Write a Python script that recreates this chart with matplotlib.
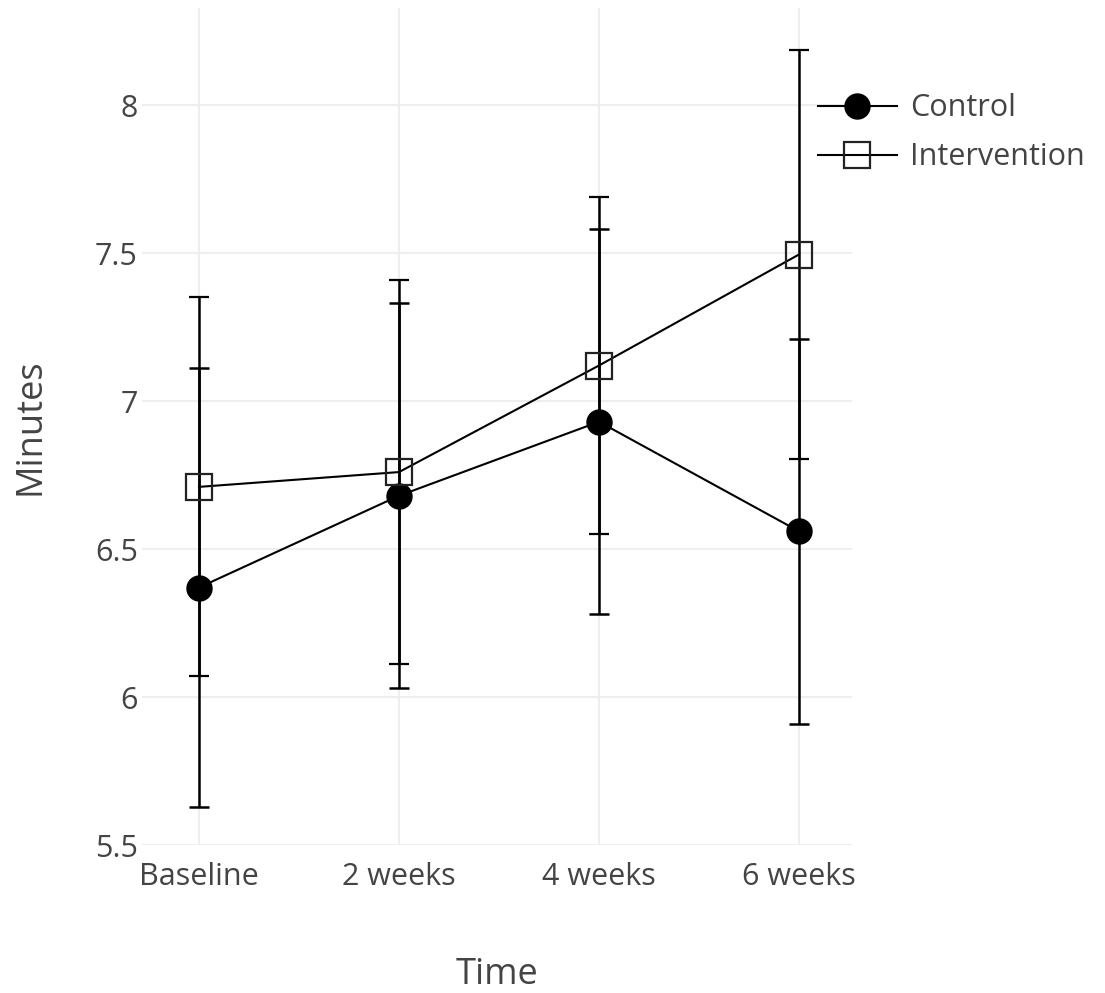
import matplotlib.pyplot as plt
import numpy as np

plt.rcParams['font.family'] = ['Open Sans', 'DejaVu Sans']

time_points = ["Baseline", "2 weeks", "4 weeks", "6 weeks"]
control_mean = [6.37, 6.68, 6.93, 6.56]
control_err = [0.74, 0.65, 0.65, 0.65]
intervention_mean = [6.71, 6.76, 7.12, 7.495]
intervention_err = [0.64, 0.65, 0.57, 0.69]

x = np.arange(len(time_points))

fig = plt.figure(figsize=(11.05, 9.93), dpi=100)
ax = fig.add_axes([0.1285, 0.149, 0.6425, 0.843])

ax.errorbar(x, control_mean, yerr=control_err, color="black", marker="o",
            markersize=18, linewidth=1.5, elinewidth=1.8, capsize=7.5, capthick=1.8,
            label="Control", zorder=3)
ax.errorbar(x, intervention_mean, yerr=intervention_err, color="black", marker="s",
            markersize=19, markerfacecolor="none", markeredgecolor="#222222",
            markeredgewidth=1.6, linewidth=1.5, elinewidth=1.8, capsize=7.5,
            capthick=1.8, label="Intervention", zorder=3)

ax.set_xlim(-0.285, 3.265)
ax.set_ylim(5.5, 8.328)
ax.set_xticks(x)
ax.set_xticklabels(time_points)
ax.set_yticks([5.5, 6, 6.5, 7, 7.5, 8])
ax.set_yticklabels(["5.5", "6", "6.5", "7", "7.5", "8"])
ax.grid(True, color="#eeeeee", linewidth=1.5)
ax.set_axisbelow(True)
for s in ax.spines.values():
    s.set_visible(False)
ax.tick_params(length=0, labelsize=22, colors="#444444")
ax.tick_params(axis="y", pad=3)
ax.tick_params(axis="x", pad=12)
ax.set_xlabel("Time", fontsize=26, color="#444444", labelpad=47)
ax.set_ylabel("Minutes", fontsize=26, color="#444444", labelpad=33)

# legend shows only the line+marker, not the error bars
handles, labels = ax.get_legend_handles_labels()
handles = [h[0] for h in handles]
leg = fig.legend(handles, labels, loc="upper left", bbox_to_anchor=(0.740, 0.906),
                 bbox_transform=fig.transFigure, borderaxespad=0, borderpad=0,
                 frameon=False, fontsize=22, handlelength=2.6, handletextpad=0.43,
                 labelspacing=0.62, labelcolor="#444444")

fig.savefig("out.png", dpi=100)
